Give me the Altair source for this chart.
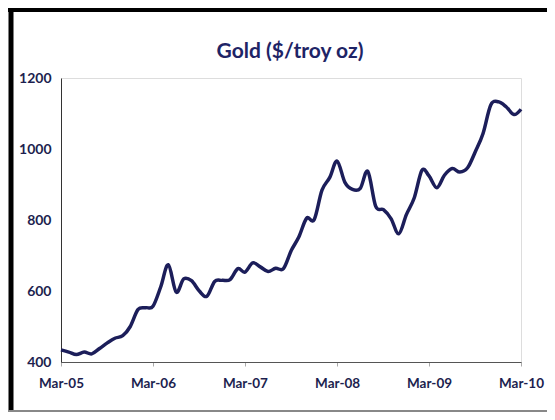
import altair as alt
import pandas as pd

start_month = "2005-03-01"
gold_price = [434, 428, 421, 428, 423, 438, 454, 467, 474, 500, 548, 553,
              557, 612, 674, 597, 634, 629, 600, 585, 627, 630, 632, 663,
              653, 679, 668, 655, 664, 663, 714, 752, 805, 801, 884, 920,
              966, 906, 886, 889, 937, 839, 829, 804, 761, 815, 862, 940,
              924, 891, 926, 945, 935, 947, 993, 1043, 1124, 1133, 1119, 1097,
              1112]
tick_dates = ["2005-03-01", "2006-03-01", "2007-03-01", "2008-03-01", "2009-03-01", "2010-03-01"]
y_ticks = [400, 600, 800, 1000, 1200]
title_text = "Gold ($/troy oz)"

months = pd.date_range(start_month, periods=len(gold_price), freq="MS")
df = pd.DataFrame({"date": months.strftime("%Y-%m-%d"), "price": gold_price})

NAVY = "#1c1e5a"
TXT = "#1d1f4f"
FONT = "Lato"

line = alt.Chart(df).mark_line(
    color=NAVY, strokeWidth=3.5, interpolate="cardinal"
).encode(
    x=alt.X("date:T",
            scale=alt.Scale(domain=[tick_dates[0], tick_dates[-1]]),
            axis=alt.Axis(values=tick_dates, format="%b-%y", title=None,
                          grid=False, tickSize=4, tickColor="#aaaaaa",
                          domainColor="#555555", domainWidth=1,
                          labelFont=FONT, labelFontWeight="bold", labelFontSize=13.5,
                          labelColor=TXT, labelPadding=10, labelFlush=False)),
    y=alt.Y("price:Q",
            scale=alt.Scale(domain=[400, 1200], nice=False, zero=False),
            axis=alt.Axis(values=y_ticks, format="d", title=None, grid=False, ticks=False,
                          domainColor="#333333", domainWidth=1,
                          labelFont=FONT, labelFontWeight="bold", labelFontSize=14,
                          labelColor=TXT, labelPadding=10)),
)

blank = alt.Data(values=[{}])
title = alt.Chart(blank).mark_text(
    font=FONT, fontSize=21, fontWeight="bold", color="#1e2466",
    align="center", baseline="alphabetic"
).encode(x=alt.value(229), y=alt.value(-20), text=alt.value(title_text))
left_border = alt.Chart(blank).mark_rule(color="#000000", strokeWidth=5).encode(
    x=alt.value(-50), y=alt.value(-70), y2=alt.value(334))
top_border = alt.Chart(blank).mark_rule(color="#000000", strokeWidth=4).encode(
    x=alt.value(-53), x2=alt.value(486), y=alt.value(-68))
bottom_border = alt.Chart(blank).mark_rule(color="#888888", strokeWidth=2).encode(
    x=alt.value(-53), x2=alt.value(486), y=alt.value(333))

chart = alt.layer(line, title, left_border, top_border, bottom_border).properties(
    width=460, height=284,
    padding={"left": 53, "top": 70, "right": 26, "bottom": 50},
    autosize=alt.AutoSizeParams(type="none"),
).configure_view(stroke=None).configure(background="white")

chart.save("out.html", embed_options={"renderer": "svg", "actions": False})
